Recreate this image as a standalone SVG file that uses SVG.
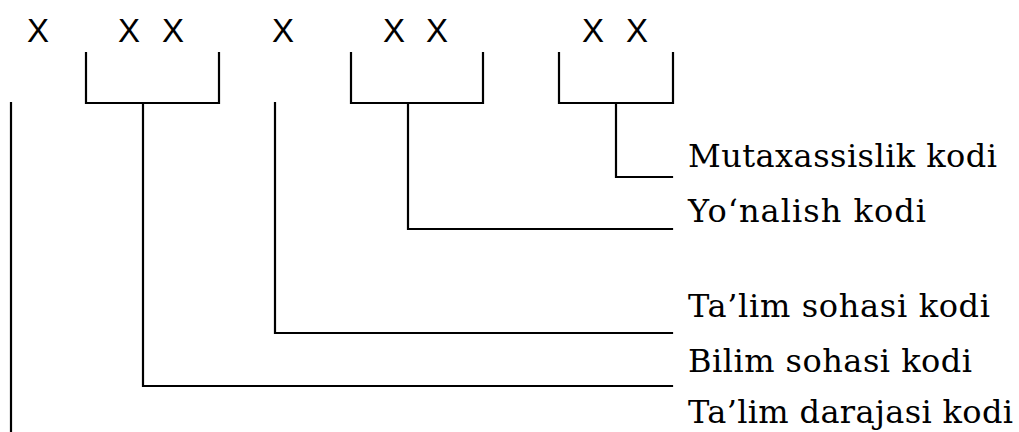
<svg xmlns="http://www.w3.org/2000/svg" width="1019" height="432" viewBox="0 0 1019 432">
<style>
.x{font-family:"Liberation Sans",Arial,sans-serif;font-size:33px;fill:#000}
.lbl{font-family:"DejaVu Serif","Liberation Serif",serif;font-size:32px;fill:#000}
.ln{fill:none;stroke:#000;stroke-width:2.2;stroke-linecap:square;stroke-linejoin:miter}
</style>
<rect width="1019" height="432" fill="#fff"/>
<g id="digits">
<text class="x" x="27" y="42">X</text>
<text class="x" x="118 140 162" y="42">X X</text>
<text class="x" x="272" y="42">X</text>
<text class="x" x="383 405 426" y="42">X X</text>
<text class="x" x="582 604 626" y="42">X X</text>
</g>
<g id="connectors">
<path class="ln" d="M86,53 V103 H219 V53"/>
<path class="ln" d="M351,53 V103 H483 V53"/>
<path class="ln" d="M559,53 V103 H673 V53"/>
<path class="ln" d="M616,103 V177 H672"/>
<path class="ln" d="M408,103 V229 H672"/>
<path class="ln" d="M275,103 V333 H672"/>
<path class="ln" d="M143,103 V386 H672"/>
<path class="ln" d="M11,103 V433"/>
</g>
<g id="label-mutaxassislik"><text class="lbl" x="688" y="167" textLength="309">Mutaxassislik kodi</text></g>
<g id="label-yonalish"><text class="lbl" x="688" y="222" textLength="238">Yo‘nalish kodi</text></g>
<g id="label-talim-sohasi"><text class="lbl" x="688" y="317" textLength="302">Ta’lim sohasi kodi</text></g>
<g id="label-bilim-sohasi"><text class="lbl" x="688" y="372" textLength="284">Bilim sohasi kodi</text></g>
<g id="label-talim-darajasi"><text class="lbl" x="688" y="423" textLength="325">Ta’lim darajasi kodi</text></g>
</svg>
